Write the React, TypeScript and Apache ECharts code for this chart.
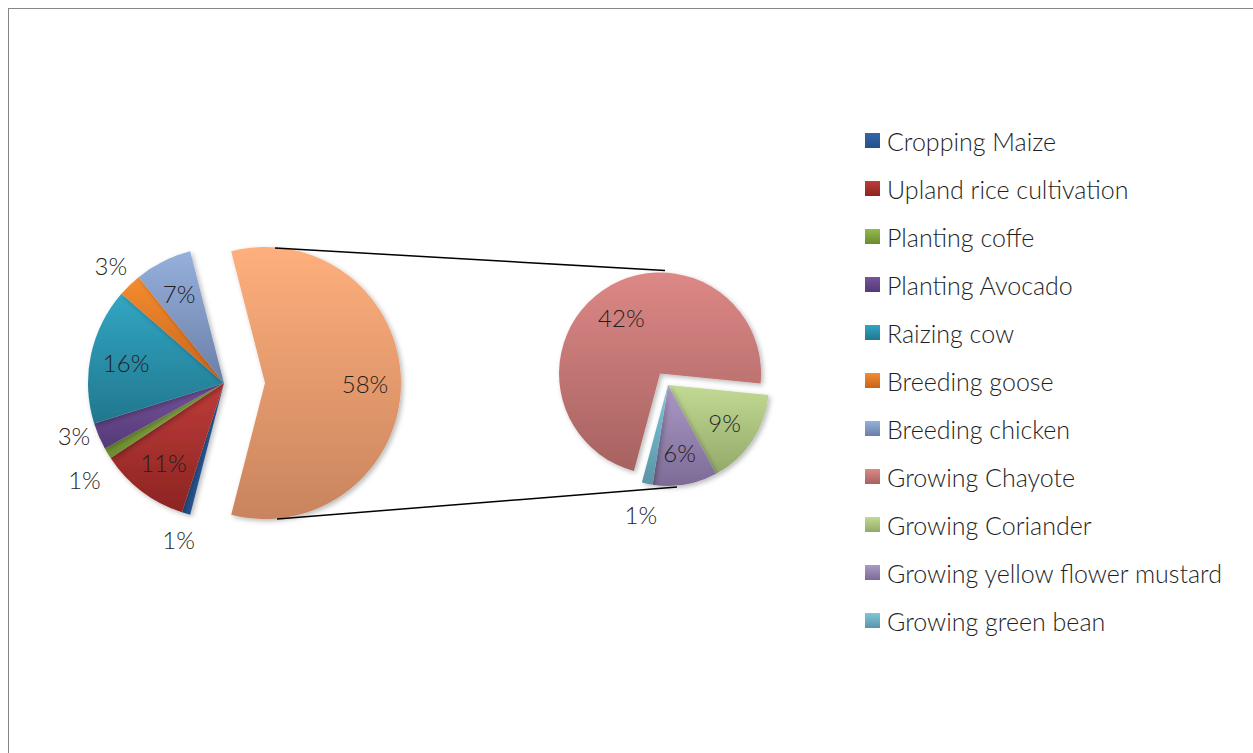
import React, { useEffect, useRef } from "react";
import * as echarts from "echarts";

// ---------- DATA ----------
const primaryNames = [
  "Cropping Maize",
  "Upland rice cultivation",
  "Planting coffe",
  "Planting Avocado",
  "Raizing cow",
  "Breeding goose",
  "Breeding chicken",
];
const primaryValues = [1.0, 10.7, 1.3, 3.2, 16.2, 2.8, 6.8];

const secondaryNames = [
  "Growing Chayote",
  "Growing Coriander",
  "Growing yellow flower mustard",
  "Growing green bean",
];
const secondaryValues = [42, 9, 6, 1];

const otherName = "Other";

// light (top) / dark (bottom) colours per category
const colorPairs: Record<string, [string, string]> = {
  "Cropping Maize": ["#3467A8", "#24508A"],
  "Upland rice cultivation": ["#BE3C39", "#8C2422"],
  "Planting coffe": ["#95BA4B", "#6A8B2D"],
  "Planting Avocado": ["#75549C", "#553977"],
  "Raizing cow": ["#32A6C3", "#21778D"],
  "Breeding goose": ["#F48C2F", "#C8641B"],
  "Breeding chicken": ["#96B0DC", "#6A7FA6"],
  Other: ["#FEAF7C", "#C9845E"],
  "Growing Chayote": ["#DC8886", "#A66260"],
  "Growing Coriander": ["#C2DA94", "#93A969"],
  "Growing yellow flower mustard": ["#AC9AC6", "#7B6B95"],
  "Growing green bean": ["#7EC6DA", "#5A95A6"],
};

// ---------- LAYOUT ----------
const FONT = "Lato, 'Open Sans', sans-serif";
const WEIGHT = 300;
const TEXT = "#1f1f1f";
const mainC = [215, 374];
const mainR = 136;
const mainExplode = 41;
const mainOuterLabelR = 163;
const outerLabelGap = 44;
const secC = [659, 376];
const secR = 101;
const secExplode = 14;
const secStartAngle = 255;

const grad = (name: string) => {
  const [a, b] = colorPairs[name];
  return new echarts.graphic.LinearGradient(0, 0, 0, 1, [
    { offset: 0, color: a },
    { offset: 1, color: b },
  ]);
};

const fmt = (p: any) => `${Math.round(p.value)}%`;

export default function App() {
  const ref = useRef<HTMLDivElement>(null);

  useEffect(() => {
    if (!ref.current) return;
    const chart = echarts.init(ref.current, null, { renderer: "svg" });

    const otherValue = secondaryValues.reduce((s, v) => s + v, 0);
    const total = otherValue + primaryValues.reduce((s, v) => s + v, 0);
    const mainStart = ((otherValue / total) * 360) / 2;

    const mainItems = [
      { name: otherName, value: otherValue },
      ...primaryNames.map((n, i) => ({ name: n, value: primaryValues[i] })),
    ];
    const secItems = secondaryNames.map((n, i) => ({ name: n, value: secondaryValues[i] }));

    const isSmall = (v: number) => v < 5;

    // outside label positions for the small slices of the main pie (spread apart like "best fit")
    const outerPos: Record<number, { x: number; y: number }> = {};
    {
      let a = -mainStart;
      const pts: { idx: number; x: number; y: number }[] = [];
      mainItems.forEach((d, idx) => {
        const span = (d.value / total) * 360;
        const mid = ((a + span / 2) * Math.PI) / 180;
        a += span;
        if (!isSmall(d.value)) return;
        pts.push({
          idx,
          x: mainC[0] + mainOuterLabelR * Math.cos(mid),
          y: mainC[1] + mainOuterLabelR * Math.sin(mid),
        });
      });
      pts.sort((p, q) => p.y - q.y);
      for (let i = 1; i < pts.length; i++) {
        const p = pts[i - 1];
        const q = pts[i];
        if (Math.abs(p.x - q.x) < 60 && q.y - p.y < outerLabelGap) {
          const push = (outerLabelGap - (q.y - p.y)) / 2;
          p.y -= push;
          q.y += push;
        }
      }
      pts.forEach((p) => (outerPos[p.idx] = { x: p.x, y: p.y }));
    }

    const shadow = {
      shadowBlur: 5,
      shadowColor: "rgba(0,0,0,0.28)",
      shadowOffsetX: 2,
      shadowOffsetY: 2,
    };

    const pieBase = {
      type: "pie",
      silent: true,
      selectedMode: "multiple",
      clockwise: true,
      avoidLabelOverlap: false,
      labelLine: { show: false },
      emphasis: { disabled: true },
      legendHoverLink: false,
    };

    const mkColored = (items: any[], explodeName: string) =>
      items.map((d) => ({
        ...d,
        selected: d.name === explodeName,
        itemStyle: { color: grad(d.name), ...shadow },
        select: { itemStyle: { color: grad(d.name) } },
      }));

    const mkLabels = (items: any[], explodeName: string, showIf: (v: number) => boolean) =>
      items.map((d) => ({
        ...d,
        selected: d.name === explodeName,
        label: { show: showIf(d.value) },
      }));

    const labelStyle = {
      position: "inside",
      color: TEXT,
      fontFamily: FONT,
      fontWeight: WEIGHT,
      fontSize: 24,
      formatter: fmt,
    };
    const transparent = { color: "rgba(0,0,0,0)" };

    const series: any[] = [
      {
        ...pieBase,
        name: "main",
        center: mainC,
        radius: [0, mainR],
        startAngle: mainStart,
        selectedOffset: mainExplode,
        label: { show: false },
        data: mkColored(mainItems, otherName),
        z: 2,
      },
      {
        ...pieBase,
        name: "secondary",
        center: secC,
        radius: [0, secR],
        startAngle: secStartAngle,
        selectedOffset: secExplode,
        label: { show: false },
        data: mkColored(secItems, secondaryNames[0]),
        z: 2,
      },
      {
        ...pieBase,
        name: "mainInnerLabels",
        center: mainC,
        radius: [58, mainR],
        startAngle: mainStart,
        selectedOffset: mainExplode,
        itemStyle: transparent,
        select: { itemStyle: transparent },
        label: labelStyle,
        data: mkLabels(mainItems, otherName, (v) => !isSmall(v)),
        z: 3,
      },
      {
        ...pieBase,
        name: "mainOuterLabels",
        center: mainC,
        radius: [mainR, 184],
        startAngle: mainStart,
        selectedOffset: mainExplode,
        itemStyle: transparent,
        select: { itemStyle: transparent },
        label: labelStyle,
        labelLayout: (params: any) => {
          const p = outerPos[params.dataIndex];
          if (!p) return {};
          return { x: p.x, y: p.y, align: "center", verticalAlign: "middle" };
        },
        data: mkLabels(mainItems, otherName, isSmall),
        z: 3,
      },
      {
        ...pieBase,
        name: "secInnerLabels",
        center: secC,
        radius: [29, secR],
        startAngle: secStartAngle,
        selectedOffset: secExplode,
        itemStyle: transparent,
        select: { itemStyle: transparent },
        label: labelStyle,
        data: mkLabels(secItems, secondaryNames[0], (v) => !isSmall(v)),
        z: 3,
      },
      {
        ...pieBase,
        name: "secOuterLabels",
        center: secC,
        radius: [secR, 157],
        startAngle: secStartAngle,
        selectedOffset: secExplode,
        itemStyle: transparent,
        select: { itemStyle: transparent },
        label: labelStyle,
        data: mkLabels(secItems, secondaryNames[0], isSmall),
        z: 3,
      },
    ];

    // connector lines between the exploded slice and the secondary pie
    const chayMid = (secStartAngle - ((secondaryValues[0] / otherValue) * 360) / 2) * (Math.PI / 180);
    const chayDx = Math.cos(chayMid) * secExplode;
    const chayDy = -Math.sin(chayMid) * secExplode;
    const lineStyle = { stroke: "#000", lineWidth: 1.5 };

    chart.setOption({
      animation: false,
      backgroundColor: "#fff",
      legend: {
        orient: "vertical",
        left: 851,
        top: 114,
        itemWidth: 15,
        itemHeight: 15,
        itemGap: 23,
        icon: "rect",
        selectedMode: false,
        data: [...primaryNames, ...secondaryNames],
        textStyle: {
          color: TEXT,
          fontFamily: FONT,
          fontWeight: WEIGHT,
          fontSize: 25,
          padding: [0, 0, 0, 2],
        },
      },
      graphic: [
        {
          type: "line",
          z: 10,
          shape: {
            x1: mainC[0] + mainExplode + 10,
            y1: mainC[1] - mainR + 1,
            x2: secC[0] + chayDx + 5,
            y2: secC[1] + chayDy - secR - 2,
          },
          style: lineStyle,
        },
        {
          type: "line",
          z: 10,
          shape: {
            x1: mainC[0] + mainExplode + 12,
            y1: mainC[1] + mainR,
            x2: secC[0] + 9,
            y2: secC[1] + secR + 1,
          },
          style: lineStyle,
        },
      ],
      series,
    });

    return () => chart.dispose();
  }, []);

  return (
    <div
      style={{
        position: "fixed",
        left: 8,
        top: 8,
        width: 1300,
        height: 800,
        border: "1px solid #868686",
        background: "#fff",
      }}
    >
      <div ref={ref} style={{ width: 1300, height: 800 }} />
    </div>
  );
}
